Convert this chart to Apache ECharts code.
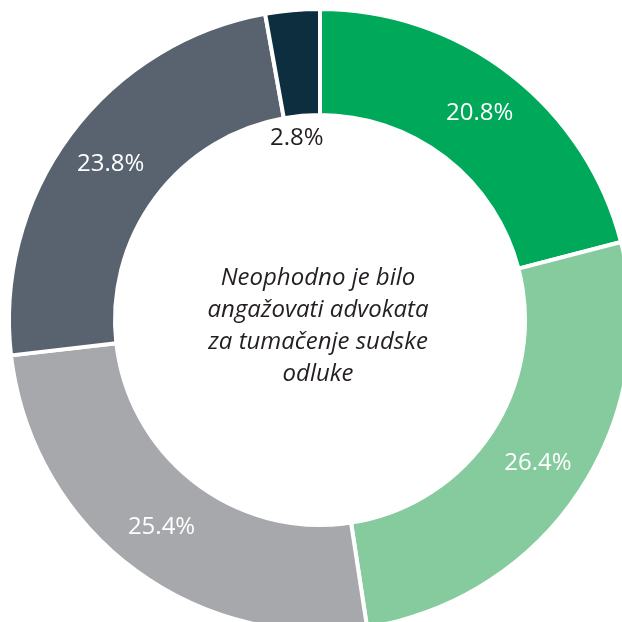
<!DOCTYPE html>
<html>
<head>
<meta charset="utf-8">
<script src="https://cdn.jsdelivr.net/npm/echarts@6/dist/echarts.min.js"></script>
<style>html,body{margin:0;padding:0;background:#fff;}#c{width:622px;height:622px;}</style>
</head>
<body>
<div id="c"></div>
<script>
var categories = ['A', 'B', 'C', 'D', 'E'];
var values = [20.8, 26.4, 25.4, 23.8, 2.8];
var colors = ['#00A859', '#85CB9D', '#A7A8AB', '#58636F', '#0C2E3F'];
var centerText = ['Neophodno je bilo', 'angažovati advokata', 'za tumačenje sudske', 'odluke'];

var chart = echarts.init(document.getElementById('c'));
var data = categories.map(function (c, i) {
  var item = { name: c, value: values[i], itemStyle: { color: colors[i] } };
  if (i === 4) {
    item.label = { color: '#231F20' };
  }
  return item;
});
chart.setOption({
  animation: false,
  graphic: [{
    type: 'text',
    x: 318, y: 326,
    style: {
      text: centerText.join('\n'),
      textAlign: 'center',
      textVerticalAlign: 'middle',
      font: 'italic 24px "Open Sans"',
      lineHeight: 32,
      fill: '#231F20'
    }
  }],
  series: [{
    type: 'pie',
    center: [320, 320],
    radius: [205, 311],
    startAngle: 90,
    clockwise: true,
    itemStyle: { borderColor: '#fff', borderWidth: 4 },
    label: {
      show: true,
      position: 'inside',
      formatter: function (p) {
        var t = p.value.toFixed(1) + '%';
        return p.dataIndex === 4 ? '\n\n\n\n\n\n' + t : t;
      },
      color: '#fff',
      fontFamily: 'Open Sans',
      fontSize: 24,
      lineHeight: 26
    },
    labelLine: { show: false },
    data: data
  }]
});
</script>
</body>
</html>
